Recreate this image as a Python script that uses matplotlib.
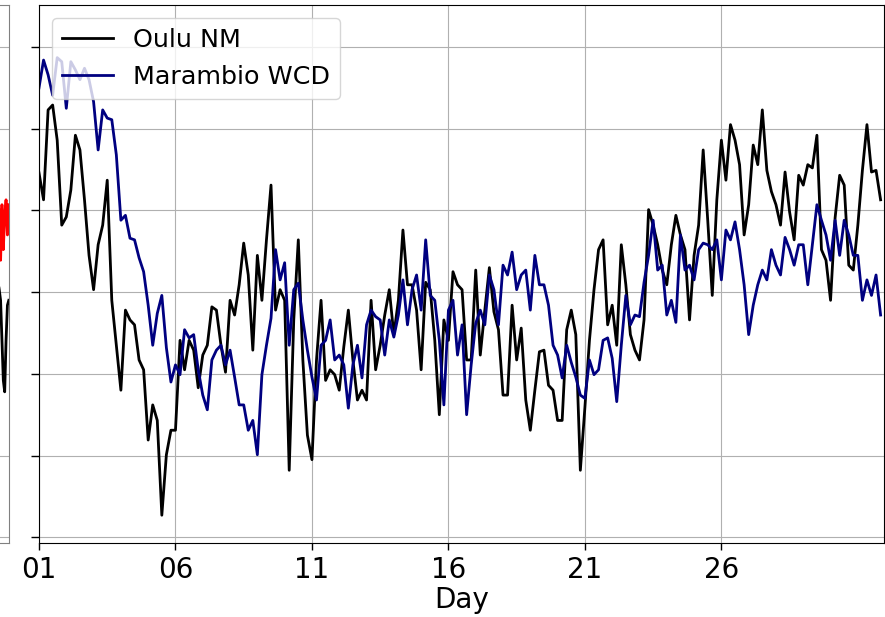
import numpy as np
import matplotlib
matplotlib.use("Agg")
import matplotlib.pyplot as plt

# Count rates (normalised, %) sampled every 4 hours through the month
oulu_nm = [
    84.6, 81.3, 92.3, 92.9, 88.6, 78.2, 79.2, 82.5, 89.2, 87.4,
    81.3, 74.5, 70.3, 75.8, 78.2, 83.7, 69.0, 63.5, 58.0, 67.8,
    66.6, 66.0, 61.7, 60.5, 51.9, 56.2, 54.3, 42.7, 50.1, 53.1,
    53.1, 64.1, 60.5, 64.1, 62.9, 58.3, 62.3, 63.5, 68.2, 67.8,
    63.5, 60.2, 69.0, 67.2, 70.9, 76.0, 72.1, 62.9, 74.5, 69.0,
    76.4, 83.1, 67.8, 70.3, 69.0, 48.2, 66.6, 76.4, 61.7, 52.5,
    49.5, 61.7, 69.0, 59.2, 60.5, 59.9, 58.0, 63.3, 67.8, 61.7,
    56.8, 58.0, 56.8, 69.0, 60.5, 63.5, 67.2, 70.3, 64.8, 69.0,
    77.6, 70.9, 70.9, 67.8, 60.5, 71.2, 70.3, 64.1, 55.0, 66.6,
    64.1, 72.5, 70.9, 70.3, 61.7, 61.7, 72.7, 62.3, 67.8, 73.0,
    67.6, 65.4, 57.4, 57.4, 68.4, 61.7, 65.6, 56.8, 53.1, 58.0,
    62.7, 62.9, 58.6, 58.0, 54.3, 54.3, 65.4, 67.8, 64.8, 48.2,
    55.9, 64.1, 70.3, 75.2, 76.4, 66.0, 68.4, 63.5, 75.8, 70.9,
    64.8, 62.9, 61.7, 66.6, 80.1, 78.2, 75.8, 72.7, 70.9, 75.8,
    79.4, 77.0, 75.2, 66.6, 74.5, 78.2, 87.4, 78.8, 69.6, 81.3,
    88.6, 83.7, 90.5, 88.6, 85.6, 77.0, 80.7, 88.0, 85.6, 92.3,
    84.9, 82.3, 80.7, 78.2, 84.7, 79.8, 76.4, 84.3, 83.1, 85.6,
    85.2, 89.2, 75.2, 73.9, 69.0, 79.1, 84.3, 83.1, 73.3, 72.7,
    78.2, 84.9, 90.5, 84.7, 84.9, 81.3,
]

marambio_wcd = [
    95.0, 98.4, 96.6, 94.1, 98.7, 98.2, 92.5, 98.2, 97.2, 96.0,
    97.4, 96.0, 93.3, 87.4, 92.3, 91.3, 91.1, 86.8, 78.8, 79.4,
    76.6, 76.4, 74.2, 72.5, 68.4, 63.5, 67.4, 69.6, 63.2, 59.0,
    61.1, 59.9, 65.4, 64.4, 64.8, 60.5, 57.4, 55.6, 61.7, 62.9,
    63.5, 61.1, 62.9, 59.6, 56.2, 56.2, 53.1, 54.3, 50.1, 59.9,
    63.5, 66.8, 75.2, 71.5, 73.6, 63.5, 70.3, 71.1, 66.6, 62.9,
    59.6, 56.8, 63.5, 64.1, 66.6, 61.7, 62.3, 61.1, 55.8, 61.1,
    63.5, 59.5, 66.0, 67.8, 67.0, 66.6, 62.3, 66.6, 64.5, 67.2,
    71.5, 66.0, 70.3, 72.1, 67.8, 76.4, 69.6, 69.0, 64.1, 56.2,
    67.8, 69.0, 62.3, 66.0, 55.0, 61.1, 66.2, 67.8, 66.0, 72.1,
    70.3, 66.0, 73.3, 72.1, 74.9, 70.3, 72.1, 72.7, 67.8, 74.5,
    70.9, 70.9, 68.4, 63.5, 62.3, 59.5, 63.5, 61.4, 59.6, 57.4,
    57.0, 61.7, 59.9, 60.5, 64.1, 64.4, 61.9, 56.6, 63.5, 69.6,
    66.0, 67.2, 67.0, 71.2, 74.5, 78.8, 72.7, 73.3, 67.2, 69.0,
    66.3, 77.0, 72.7, 73.3, 71.5, 75.2, 76.0, 75.8, 75.2, 76.4,
    71.5, 77.6, 76.4, 78.6, 75.2, 70.9, 64.8, 68.4, 70.9, 72.7,
    71.5, 75.2, 73.3, 72.1, 76.7, 75.2, 73.3, 75.8, 75.8, 70.9,
    75.8, 80.7, 78.8, 77.0, 73.9, 78.8, 74.5, 78.8, 77.0, 74.5,
    74.5, 69.0, 71.5, 69.6, 72.1, 67.2,
]

# Tail end of the preceding panel (day offsets within its month)
prev_days = [30.55, 30.60, 30.65, 30.70, 30.75, 30.80, 30.85, 30.90, 30.95]
prev_black = [71.5, 70.3, 69.0, 64.1, 59.2, 57.8, 64.1, 68.4, 69.0]
prev_red = [76.4, 80.1, 73.9, 80.7, 75.2, 79.4, 81.3, 77.0, 80.7]

tick_days = [1, 6, 11, 16, 21, 26]
tick_labels = ["01", "06", "11", "16", "21", "26"]
y_ticks = [40, 50, 60, 70, 80, 90, 100]

steps_per_day = 6
days = 1 + np.arange(len(oulu_nm)) / steps_per_day

W, H = 885, 617
fig = plt.figure(figsize=(W / 100, H / 100), dpi=100)

x0, x1, ytop, ybot = 39, 884, 5, 543
ax = fig.add_axes([x0 / W, (H - ybot) / H, (x1 - x0) / W, (ybot - ytop) / H])
axp = fig.add_axes([(9 - (x1 - x0)) / W, (H - ybot) / H, (x1 - x0) / W, (ybot - ytop) / H])

ylim = (39.3, 105.14)
lw = 2.0

# Preceding panel (mostly outside the canvas)
axp.plot(prev_days, prev_black, color="black", lw=lw)
axp.plot(prev_days, prev_red, color="red", lw=lw)
axp.set_xlim(0, 30.958)
axp.set_ylim(*ylim)
axp.set_yticks(y_ticks)
axp.set_xticks(tick_days)
axp.grid(True, color="#b0b0b0", lw=0.8)
axp.tick_params(labelbottom=False, labelleft=False, length=0)
for s in axp.spines.values():
    s.set_color("#808080")

# Main panel
ax.plot(days, oulu_nm, color="black", lw=lw, label="Oulu NM")
ax.plot(days, marambio_wcd, color="navy", lw=lw, label="Marambio WCD")
ax.set_xlim(1, 31.958)
ax.set_ylim(*ylim)
ax.set_xticks(tick_days)
ax.set_xticklabels(tick_labels)
ax.set_yticks(y_ticks)
ax.tick_params(axis="y", labelleft=False, length=5.5, width=1)
ax.tick_params(axis="x", labelsize=20, length=5, width=1, pad=4)
ax.grid(True, color="#b0b0b0", lw=0.8)
ax.set_xlabel("Day", fontsize=20, labelpad=2)
ax.legend(loc="upper left", fontsize=18.3)

fig.savefig("out.png", dpi=100)
